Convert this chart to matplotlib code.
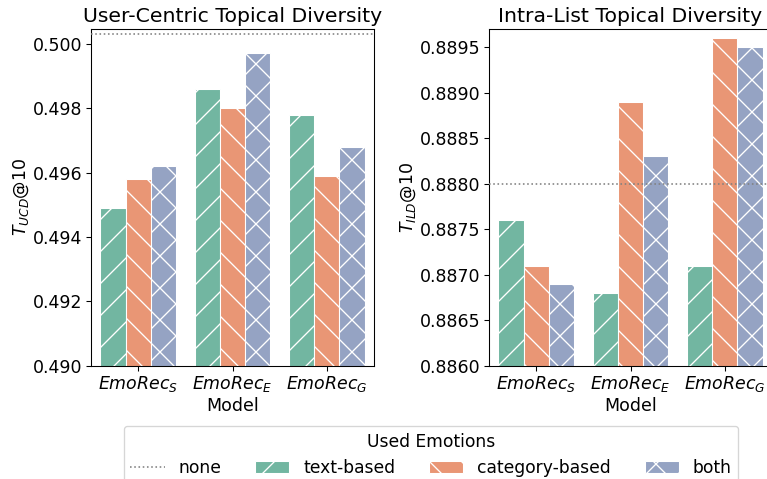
import numpy as np
import matplotlib
matplotlib.use("Agg")
import matplotlib.pyplot as plt
import seaborn as sns

# scores per model, grouped by which emotion signal was used
models = ["$EmoRec_S$", "$EmoRec_E$", "$EmoRec_G$"]
variants = ["text-based", "category-based", "both"]
hatches = ["/", "\\", "x"]

ucd_text = [0.4949, 0.4986, 0.4978]
ucd_category = [0.4958, 0.4980, 0.4959]
ucd_both = [0.4962, 0.4997, 0.4968]
ucd_none = 0.5003

ild_text = [0.8876, 0.8868, 0.8871]
ild_category = [0.8871, 0.8889, 0.8896]
ild_both = [0.8869, 0.8883, 0.8895]
ild_none = 0.8880

plt.rcParams["font.family"] = ["DejaVu Sans"]
plt.rcParams["hatch.linewidth"] = 1.0
plt.rcParams["hatch.color"] = "white"

colors = sns.color_palette("Set2", 3, desat=0.75)

DPI = 96
fig = plt.figure(figsize=(767 / DPI, 479 / DPI), dpi=DPI)
ax1 = fig.add_axes([91 / 767, 1 - 365.7 / 479, 283 / 767, 336.7 / 479])
ax2 = fig.add_axes([489 / 767, 1 - 365.7 / 479, 283 / 767, 336.7 / 479])


def draw(ax, series, none_val, ylim, yticks, fmt, ylabel, title):
    x = np.arange(len(models))
    w = 0.8 / len(series)
    for i, vals in enumerate(series):
        ax.bar(x - 0.4 + w * (i + 0.5), vals, width=w, color=colors[i],
               edgecolor="white", linewidth=0.8, hatch=hatches[i],
               label=variants[i], zorder=2)
    ax.axhline(none_val, color="gray", linestyle=":", linewidth=1.2,
               label="none", zorder=3)
    ax.set_xlim(-0.5, 2.5)
    ax.set_ylim(*ylim)
    ax.set_yticks(yticks)
    ax.set_yticklabels([fmt.format(t) for t in yticks])
    ax.set_xticks(x)
    ax.set_xticklabels(models)
    ax.tick_params(labelsize=13, pad=3)
    ax.set_xlabel("Model", fontsize=13, labelpad=2)
    ax.set_ylabel(ylabel, fontsize=13, labelpad=1.5)
    ax.set_title(title, fontsize=15.3, pad=5)


draw(ax1, [ucd_text, ucd_category, ucd_both], ucd_none,
     (0.490, 0.50046), [0.490, 0.492, 0.494, 0.496, 0.498, 0.500], "{:.3f}",
     "$T_{UCD}$@10", "User-Centric Topical Diversity")
draw(ax2, [ild_text, ild_category, ild_both], ild_none,
     (0.8860, 0.88970), [0.8860, 0.8865, 0.8870, 0.8875, 0.8880, 0.8885, 0.8890, 0.8895],
     "{:.4f}", "$T_{ILD}$@10", "Intra-List Topical Diversity")

handles, labels = ax1.get_legend_handles_labels()
leg = fig.legend(handles, labels,
                 loc="upper center", bbox_to_anchor=(431 / 767, 1 - 425.7 / 479),
                 borderaxespad=0, ncol=4, fontsize=12.8,
                 title="Used Emotions", title_fontsize=12.8)

fig.savefig("out.png", dpi=DPI)
